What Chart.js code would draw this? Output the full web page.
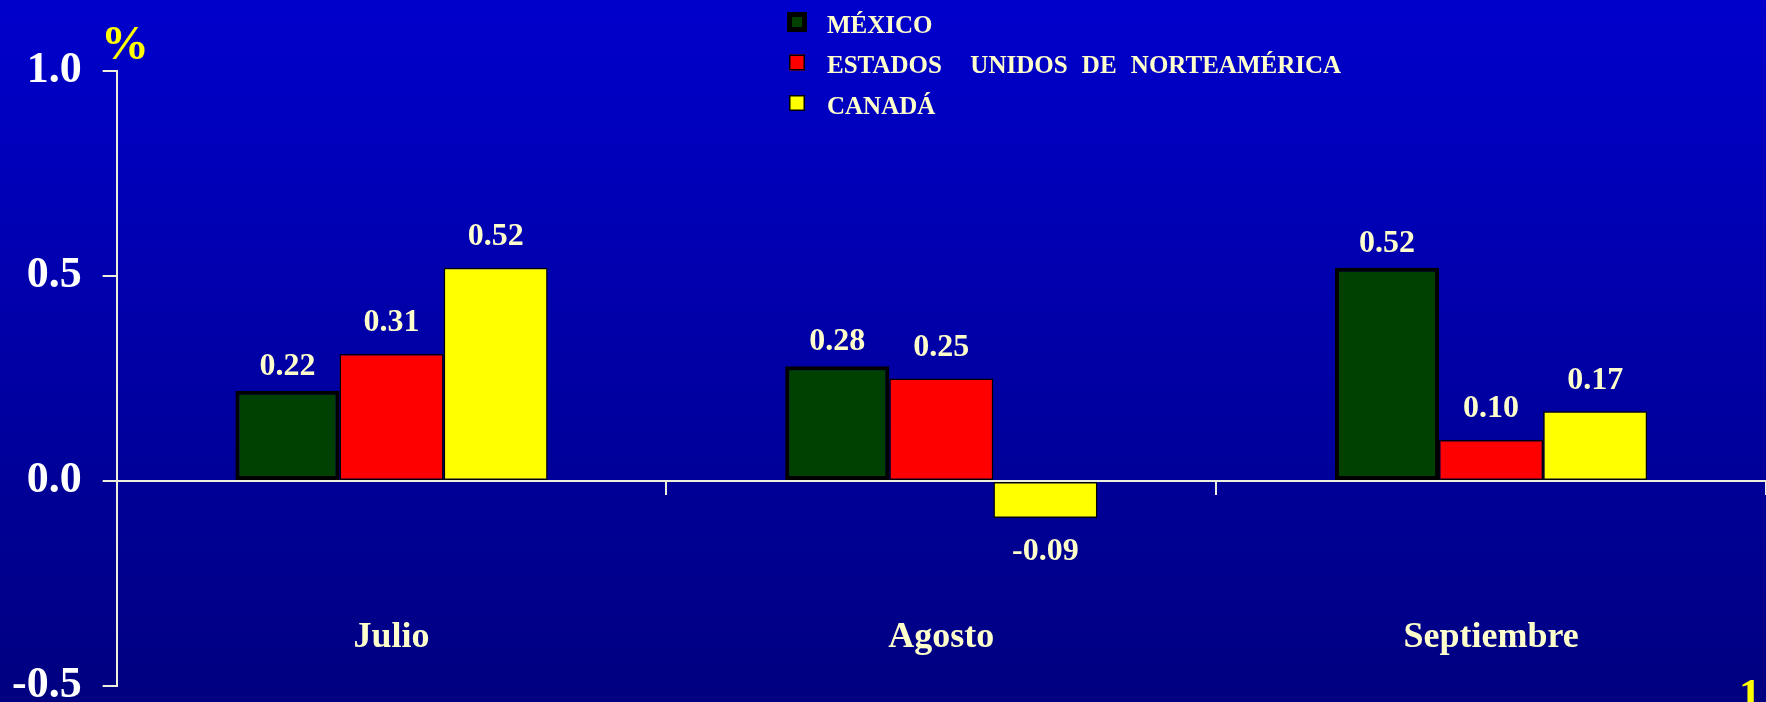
<!DOCTYPE html>
<html>
<head>
<meta charset="utf-8">
<script src="https://cdn.jsdelivr.net/npm/chart.js@4.4.0/dist/chart.umd.min.js"></script>
<style>
  html, body { margin: 0; padding: 0; background: #000099; }
  #chart { display: block; }
</style>
</head>
<body>
<canvas id="chart" width="1766" height="702"></canvas>
<script>
const months = ['Julio', 'Agosto', 'Septiembre'];
const mexico = [0.22, 0.28, 0.52];
const usa = [0.31, 0.25, 0.10];
const canada = [0.52, -0.09, 0.17];
const seriesNames = ['MÉXICO', 'ESTADOS  UNIDOS DE NORTEAMÉRICA', 'CANADÁ'];
const yTicks = [-0.5, 0.0, 0.5, 1.0];
const unitLabel = '%';
const pageNumber = '1';

const serif = "'Liberation Serif', 'Times New Roman', serif";
const cream = '#FFFFCC';
const axisColor = '#EEEEDD';

// blue slide background, lighter at the top
const background = {
  id: 'background',
  beforeDraw(chart) {
    const { ctx, width, height } = chart;
    const g = ctx.createLinearGradient(0, 0, 0, height);
    g.addColorStop(0, '#0000CC');
    g.addColorStop(1, '#000080');
    ctx.save();
    ctx.fillStyle = g;
    ctx.fillRect(0, 0, width, height);
    ctx.restore();
  }
};

// numbers over (or under) each bar
const valueLabels = {
  id: 'valueLabels',
  afterDatasetsDraw(chart) {
    const { ctx } = chart;
    ctx.save();
    ctx.font = `bold 32px ${serif}`;
    ctx.fillStyle = cream;
    ctx.textAlign = 'center';
    ctx.textBaseline = 'middle';
    chart.data.datasets.forEach((ds, i) => {
      const meta = chart.getDatasetMeta(i);
      meta.data.forEach((bar, j) => {
        const v = ds.data[j];
        const gap = v < 0 ? -34 : (ds.borderWidth > 2 ? 24 : 31);
        ctx.fillText(v.toFixed(2), bar.x, bar.y - gap);
      });
    });
    ctx.restore();
  }
};

// stacked legend at the top
const sideLegend = {
  id: 'sideLegend',
  afterDraw(chart) {
    const { ctx } = chart;
    ctx.save();
    ctx.font = `bold 25px ${serif}`;
    ctx.wordSpacing = '8px';
    ctx.textBaseline = 'alphabetic';
    chart.data.datasets.forEach((ds, i) => {
      const cy = 22 + i * 40.5;
      const thick = ds.borderWidth > 2;
      const s = thick ? 20 : 16;
      const bw = thick ? 5 : 1.5;
      const bx = 797 - s / 2, by = cy - s / 2;
      ctx.fillStyle = ds.backgroundColor;
      ctx.fillRect(bx, by, s, s);
      ctx.lineWidth = bw;
      ctx.strokeStyle = '#000000';
      ctx.strokeRect(bx + bw / 2, by + bw / 2, s - bw, s - bw);
      ctx.fillStyle = cream;
      ctx.fillText(ds.label, 827, cy + 10.5);
    });
    ctx.restore();
  }
};

const decorations = {
  id: 'decorations',
  afterDraw(chart) {
    const { ctx } = chart;
    ctx.save();
    ctx.fillStyle = '#FFFF00';
    ctx.textBaseline = 'alphabetic';
    ctx.font = `bold 48px ${serif}`;
    ctx.fillText(unitLabel, 101, 59);
    ctx.font = `bold 44px ${serif}`;
    ctx.fillText(pageNumber, 1739, 709);
    ctx.restore();
  }
};

new Chart(document.getElementById('chart'), {
  type: 'bar',
  data: {
    labels: months,
    datasets: [
      { label: seriesNames[0], data: mexico, backgroundColor: '#004000', borderColor: '#000000', borderWidth: 4 },
      { label: seriesNames[1], data: usa, backgroundColor: '#FF0000', borderColor: '#000000', borderWidth: 1.5 },
      { label: seriesNames[2], data: canada, backgroundColor: '#FFFF00', borderColor: '#000000', borderWidth: 1.5 }
    ]
  },
  options: {
    responsive: false,
    devicePixelRatio: 1,
    animation: false,
    layout: { padding: { left: 12, top: 71, right: 0, bottom: 16 } },
    datasets: { bar: { categoryPercentage: 0.568, barPercentage: 1, borderSkipped: false } },
    plugins: { legend: { display: false }, tooltip: { enabled: false } },
    scales: {
      x: {
        position: { y: 0 },
        grid: { offset: true, drawOnChartArea: false, tickLength: 13, color: axisColor, lineWidth: 2 },
        border: { color: axisColor, width: 2 },
        // tall line height pushes the month names well below the zero line
        ticks: { color: cream, font: { family: serif, size: 36, weight: 'bold', lineHeight: 7.97 }, padding: 0 }
      },
      y: {
        min: -0.5,
        max: 1.0,
        afterBuildTicks(scale) { scale.ticks = yTicks.map(v => ({ value: v })); },
        // 35px tick whose first 21px are blank = short tick plus gap before the label
        grid: { drawOnChartArea: false, tickLength: 35, tickBorderDash: [0, 21, 14, 0], color: axisColor, lineWidth: 2 },
        border: { color: axisColor, width: 2 },
        ticks: {
          color: '#FFFFFF',
          font: { family: serif, size: 44, weight: 'bold', lineHeight: 0.6 },
          padding: 0,
          callback: v => v.toFixed(1)
        }
      }
    }
  },
  plugins: [background, valueLabels, sideLegend, decorations]
});
</script>
</body>
</html>
